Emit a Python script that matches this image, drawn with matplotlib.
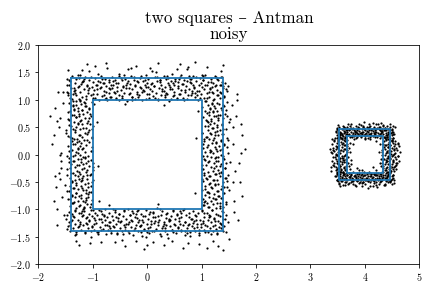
import numpy as np
import matplotlib
matplotlib.use('Agg')
import matplotlib.pyplot as plt

plt.rcParams['font.family'] = ['cmr10', 'DejaVu Serif']
plt.rcParams['mathtext.fontset'] = 'cm'
plt.rcParams['axes.formatter.use_mathtext'] = True

# noisy samples, coordinates in hundredths
big_top = [(-148,127),(-145,112),(-143,136),(-141,104),(-140,121),(-138,143),(-136,98),(-135,117),(-133,131),(-131,108),(-130,139),(-128,124),(-126,102),(-124,146),(-123,115),(-121,129),(-119,106),(-118,134),(-116,119),(-114,141),(-112,101),(-111,126),(-109,113),(-107,137),(-106,152),(-104,109),(-102,123),(-100,132),(-99,104),(-97,118),(-95,140),(-94,127),(-92,111),(-90,135),(-88,99),(-87,121),(-85,144),(-83,107),(-82,130),(-80,116),(-78,138),(-76,103),(-75,125),(-73,158),(-71,112),(-70,133),(-68,120),(-66,105),(-64,142),(-63,128),(-61,114),(-59,137),(-58,101),(-56,123),(-54,131),(-52,109),(-51,147),(-49,118),(-47,136),(-46,104),(-44,126),(-42,113),(-40,139),(-39,121),(-37,97),(-35,134),(-34,110),(-32,129),(-30,143),(-28,106),(-27,119),(-25,137),(-23,102),(-22,125),(-20,161),(-18,114),(-16,132),(-15,108),(-13,140),(-11,122),(-10,100),(-8,135),(-6,117),(-4,128),(-3,145),(-1,111),(1,124),(2,138),(4,103),(6,119),(8,131),(9,152),(11,107),(13,126),(14,141),(16,113),(18,134),(20,100),(21,121),(23,137),(25,109),(26,128),(28,116),(30,144),(32,105),(33,123),(35,139),(37,111),(38,130),(40,98),(42,119),(44,135),(45,148),(47,107),(49,127),(50,114),(52,138),(54,102),(56,122),(57,133),(59,110),(61,141),(62,118),(64,129),(66,104),(68,136),(69,115),(71,126),(73,156),(74,101),(76,120),(78,139),(80,108),(81,131),(83,113),(85,143),(86,124),(88,105),(90,134),(92,117),(93,99),(95,128),(97,140),(98,110),(100,123),(102,136),(104,103),(105,119),(107,145),(109,127),(110,112),(112,133),(114,106),(116,121),(117,139),(119,115),(121,130),(122,101),(124,125),(126,142),(128,109),(129,118),(131,136),(133,104),(134,128),(136,113),(138,141),(140,122),(141,107),(143,131),(146,117),(149,125),
           (-95,162),(-30,158),(60,165),(110,160),(-120,155),(135,152),(5,159),(88,170),
           (-37,131),(88,112),(-126,140),(15,104),(-71,122),(131,109),(-4,137),(56,126),(-109,118),(102,144),(-58,103),(27,119),(-143,128),(73,135),(-19,110),(119,123),(-90,147),(44,101),(-132,113),(7,129),(95,117),(-49,140),(138,132),(-80,108),(63,145),(-14,124),(-118,135),(35,113),(110,103),(-66,128),(-101,96),(81,139),(-28,106),(145,119),(-139,102),(18,142),(-55,117),(126,127),(-87,133),(50,108),(-7,118),(99,130),(-125,125),(68,100),(-42,146),(-113,107),(23,133),(136,141),(-76,115),(-2,101),(86,122),(-148,139),(41,127),(-62,135),(113,114),(-22,128),(-96,103),(59,138),(-133,118),(4,111),(77,143),(-45,124),(121,100),(-83,139),(30,116),(-120,132),(92,109),(-11,143),(140,125),(-68,105),(47,131),(-106,121),(-31,112),(103,136),(-145,108),(12,126),(70,118),(-52,100),(128,138),(-93,128),(37,144),(-16,105),(84,127),(-128,146),(-60,113),(24,137),(115,120),(-78,102),(-39,127),(61,111),(-116,139),(0,131),(97,104),(-135,121),(46,120),(-25,141),(133,115),(-99,110),(79,133),(-47,107),(16,150),(-71,137),(107,127),(-9,114),(-141,134),(54,104),(-85,124),(124,144),(32,109),(-57,130),(90,141),(-123,99),(-33,121),(66,129),(142,106),(-104,141),(9,116),(-74,99),(117,133),(-18,134),(42,124),(-137,111),(82,116),(-51,143),(-93,119),(20,102),(135,128),(-64,122),(75,109),(-27,99),(100,146),(-111,127),(52,135),(-3,123),(-147,115),(121,112),(-80,131),(39,140),
           (-35,157),(75,160),(-110,165),(20,168),(140,163),(-145,155),(55,156),(-75,168)]
big_bottom = [(-149,-118),(-146,-131),(-144,-105),(-142,-140),(-140,-122),(-139,-109),(-137,-135),(-135,-114),(-133,-127),(-132,-101),(-130,-145),(-128,-119),(-127,-133),(-125,-107),(-123,-124),(-121,-138),(-120,-112),(-118,-129),(-116,-103),(-114,-142),(-113,-116),(-111,-126),(-109,-134),(-107,-108),(-106,-121),(-104,-150),(-102,-113),(-101,-130),(-99,-102),(-97,-137),(-95,-119),(-94,-125),(-92,-110),(-90,-141),(-89,-117),(-87,-132),(-85,-104),(-83,-123),(-82,-136),(-80,-111),(-78,-128),(-77,-99),(-75,-146),(-73,-115),(-71,-131),(-70,-106),(-68,-124),(-66,-139),(-64,-112),(-63,-120),(-61,-133),(-59,-102),(-57,-127),(-56,-143),(-54,-116),(-52,-108),(-50,-135),(-49,-122),(-47,-157),(-45,-113),(-43,-129),(-42,-104),(-40,-138),(-38,-118),(-36,-126),(-35,-100),(-33,-144),(-31,-111),(-29,-132),(-28,-121),(-26,-106),(-24,-137),(-22,-115),(-21,-128),(-19,-103),(-17,-140),(-15,-119),(-14,-131),(-12,-109),(-10,-148),(-8,-124),(-7,-113),(-5,-136),(-3,-101),(-1,-127),(0,-142),(2,-117),(4,-108),(6,-133),(7,-122),(9,-139),(11,-105),(13,-125),(14,-114),(16,-136),(18,-98),(20,-129),(21,-119),(23,-145),(25,-110),(27,-134),(28,-103),(30,-123),(32,-140),(34,-116),(35,-128),(37,-107),(39,-152),(41,-120),(42,-131),(44,-112),(46,-138),(48,-102),(49,-126),(51,-117),(53,-143),(55,-109),(56,-132),(58,-121),(60,-104),(62,-137),(63,-115),(65,-129),(67,-100),(69,-147),(70,-123),(72,-111),(74,-134),(76,-106),(77,-126),(79,-141),(81,-118),(83,-130),(84,-103),(86,-121),(88,-139),(90,-113),(91,-127),(93,-107),(95,-144),(97,-119),(98,-133),(100,-101),(102,-125),(104,-138),(105,-114),(107,-129),(109,-106),(111,-142),(112,-120),(114,-110),(116,-135),(118,-124),(119,-102),(121,-139),(123,-116),(125,-128),(126,-108),(128,-145),(130,-121),(132,-133),(133,-112),(135,-126),(137,-104),(139,-140),(140,-118),(142,-131),(145,-110),(148,-124),
              (-60,-160),(-20,-158),(30,-165),(75,-162),(120,-158),(-105,-162),(0,-166),(110,-170),(150,-155),(-130,-158),
              (41,-122),(-83,-109),(127,-136),(-12,-128),(66,-101),(-139,-119),(3,-143),(-57,-115),(98,-127),(-28,-104),(115,-113),(-104,-139),(29,-131),(-70,-124),(140,-105),(-45,-146),(82,-118),(-126,-130),(11,-107),(-93,-141),(57,-135),(-18,-116),(133,-125),(-63,-100),(37,-145),(-117,-111),(92,-132),(-34,-123),(-148,-136),(20,-112),(107,-142),(-77,-119),(48,-103),(-6,-138),(123,-118),(-98,-126),(73,-144),(-52,-108),(-132,-147),(15,-121),(88,-110),(-40,-133),(138,-128),(-88,-102),(30,-127),(-110,-114),(62,-139),(-23,-134),(102,-121),(-67,-143),(6,-105),(-143,-124),(77,-114),(-31,-111),(118,-146),(-120,-103),(45,-137),(-9,-119),(96,-138),(-74,-129),(-54,-121),(25,-148),(131,-110),(-101,-132),(59,-116),(-16,-102),(85,-125),(-136,-113),(-47,-140),(110,-131),(2,-134),(-84,-117),(35,-109),(145,-141),(-113,-125),(69,-123),(-26,-147),(-59,-105),(124,-122),(13,-139),(-95,-107),(51,-128),(-130,-141),(-4,-112),(100,-104),(-72,-137),(40,-117),(-38,-126),(136,-134),(-107,-120),(79,-148),(-14,-130),(-147,-110),(63,-106),(-62,-131),(19,-124),(113,-115),(-90,-146),(-21,-109),(47,-142),(-124,-127),(90,-120),(-43,-101),(7,-127),(128,-144),(-80,-112),(32,-135),(-115,-143),(75,-129),(-3,-150),(-50,-124),(104,-107),(-141,-128),(55,-111),(-35,-139),(121,-130),(-97,-116),(23,-100),(-68,-134),(143,-118),(-11,-141),(86,-134),(-121,-106),(42,-119),(-85,-138),(-29,-120),(119,-102),(-55,-145),(10,-115),(70,-140),(-133,-104),(95,-147),(-16,-123),(-104,-101),(60,-126),
              (-85,-160),(45,-158),(-40,-168),(95,-163),(-125,-165),(130,-168),(10,-160),(-5,-172),(140,-175),(65,-170)]
big_left = [(-118,-99),(-131,-97),(-105,-96),(-142,-94),(-124,-92),(-110,-90),(-137,-89),(-115,-87),(-128,-85),(-102,-83),(-146,-82),(-121,-80),(-133,-78),(-108,-77),(-126,-75),(-139,-73),(-113,-71),(-130,-70),(-104,-68),(-143,-66),(-117,-64),(-127,-63),(-135,-61),(-109,-59),(-122,-58),(-151,-56),(-114,-54),(-131,-52),(-101,-51),(-138,-49),(-120,-47),(-125,-45),(-111,-44),(-142,-42),(-118,-40),(-133,-38),(-105,-37),(-124,-35),(-137,-33),(-112,-31),(-129,-30),(-99,-28),(-147,-26),(-116,-24),(-132,-23),(-107,-21),(-125,-19),(-140,-17),(-113,-16),(-121,-14),(-134,-12),(-103,-10),(-128,-9),(-144,-7),(-117,-5),(-109,-3),(-136,-2),(-123,0),(-158,2),(-114,4),(-130,5),(-104,7),(-139,9),(-119,11),(-127,12),(-101,14),(-145,16),(-112,18),(-133,19),(-122,21),(-107,23),(-138,25),(-116,26),(-129,28),(-102,30),(-141,32),(-120,33),(-126,35),(-110,37),(-149,39),(-115,40),(-132,42),(-106,44),(-124,46),(-137,47),(-113,49),(-130,51),(-100,53),(-143,54),(-119,56),(-127,58),(-134,60),(-108,61),(-121,63),(-146,65),(-114,67),(-131,68),(-103,70),(-139,72),(-117,74),(-125,75),(-110,77),(-142,79),(-119,81),(-134,82),(-106,84),(-128,86),(-136,88),(-112,89),(-130,91),(-98,93),(-144,95),(-116,96),(-123,98),
            (-178,70),(-172,35),(-166,62),(-160,66),(-170,-40),(-162,-33),(-160,-45),(-156,-78),(-163,115),(-158,-12),(-165,-128),(-155,95),(-160,0),(-152,-110),
            (-121,-73),(-108,41),(-137,-12),(-115,88),(-131,-55),(-102,7),(-143,63),(-126,-94),(-111,-28),(-134,29),(-119,-61),(-147,-3),(-105,75),(-128,-40),(-140,52),(-113,-83),(-124,16),(-99,-47),(-136,90),(-117,-17),(-130,69),(-107,-68),(-145,34),(-122,-8),(-110,58),(-138,-75),(-127,3),(-103,-36),(-133,44),(-116,-98),(-142,-24),(-120,81),(-109,-52),(-129,23),(-148,-66),(-114,94),(-125,-31),(-101,47),(-139,-88),(-118,12),(-132,-46),(-106,67),(-144,-14),(-123,36),(-112,-79),(-135,84),(-100,-22),(-128,56),(-141,-57),(-115,-4),(-126,71),(-104,-91),(-137,19),(-119,-43),(-146,78),(-111,27),(-131,-70),(-108,-11),(-122,92),(-140,-33),(-117,49),(-134,-86),(-102,33),(-129,-19),(-143,6),(-113,-64),(-124,61),(-138,-50),(-106,86),(-120,-26),(-150,44),(-116,-95),(-127,10),(-103,-58),(-135,73),(-110,-38),(-142,-81),(-125,24),(-114,-6),(-131,97),(-109,-72),(-139,31),(-121,-49),(-147,-37),(-105,55),(-133,-1),(-118,-84),(-128,80),(-100,-15),(-136,-62),
            (-168,-60),(-175,20),(-162,50),(-166,-100),(-170,85),(-158,-25),(-155,115),(-172,-85)]
big_right = [(127,-98),(112,-96),(139,-95),(104,-93),(121,-91),(133,-89),(109,-88),(145,-86),(118,-84),(126,-82),(102,-81),(137,-79),(114,-77),(130,-75),(107,-74),(123,-72),(141,-70),(111,-68),(128,-67),(100,-65),(135,-63),(119,-61),(147,-60),(106,-58),(124,-56),(131,-54),(113,-53),(139,-51),(103,-49),(121,-47),(128,-46),(110,-44),(144,-42),(116,-40),(134,-39),(105,-37),(125,-35),(138,-33),(112,-32),(120,-30),(130,-28),(101,-26),(143,-25),(117,-23),(127,-21),(108,-19),(136,-18),(122,-16),(153,-14),(113,-12),(131,-11),(104,-9),(140,-7),(118,-5),(126,-4),(109,-2),(135,0),(121,2),(148,3),(106,5),(129,7),(115,9),(138,10),(102,12),(124,14),(132,16),(111,17),(142,19),(119,21),(127,23),(105,24),(136,26),(114,28),(123,30),(146,31),(108,33),(130,35),(117,37),(139,38),(101,40),(125,42),(133,44),(112,45),(144,47),(120,49),(128,51),(106,52),(137,54),(115,56),(123,58),(150,59),(110,61),(131,63),(118,65),(140,66),(103,68),(126,70),(134,72),(113,73),(143,75),(121,77),(107,79),(129,80),(137,82),(116,84),(124,86),(100,87),(141,89),(111,91),(132,93),(119,94),(146,96),(108,98),
             (158,50),(172,2),(162,-30),(155,90),(165,110),(160,-85),(167,-120),(152,65),(170,-50),(157,20),(175,35),
             (118,61),(132,-33),(107,-84),(141,18),(124,-7),(110,76),(137,-58),(101,-19),(129,43),(145,-91),(115,4),(122,-47),(135,85),(104,29),(140,-70),(127,-12),(112,52),(148,-38),(119,92),(133,9),(106,-63),(125,36),(143,-25),(113,-96),(130,67),(102,-3),(139,47),(121,-79),(109,14),(146,71),(116,-52),(128,-88),(136,25),(105,-34),(123,89),(141,-8),(111,60),(131,-66),(100,40),(144,-16),(120,79),(108,-43),(134,-97),(126,21),(114,-71),(138,56),(103,-27),(129,95),(147,-49),(117,6),(124,-82),(110,33),(142,-59),(130,73),(106,-10),(135,-31),(119,49),(102,-93),(127,11),(145,82),(113,-40),(132,-75),(108,64),(139,-2),(121,27),(150,-65),(116,86),(125,-54),(104,-86),(137,37),(112,-14),(128,54),(143,-42),(107,98),(133,-21),(118,-60),(146,14),(123,70),(101,-45),(136,-80),(115,39),(131,-5),(140,91),(109,-69),(126,-36),(149,26),(114,77),(134,-94),(103,19),(122,-24),
             (168,-15),(163,70),(175,-75),(160,-105),(172,55),(158,-50),(165,100),(180,10)]
big_inside = [(-92,60),(-90,-20),(90,30),(88,-70),(-40,92),(30,90),(20,-90),(-70,-92),(93,80),(-88,-85)]

small_top = [(347,41),(348,36),(349,47),(350,33),(351,44),(352,39),(353,50),(354,35),(355,42),(356,31),(357,46),(358,38),(359,53),(360,34),(361,43),(362,40),(363,48),(364,32),(365,37),(366,45),(367,41),(368,51),(369,35),(370,44),(371,38),(372,47),(373,33),(374,42),(375,55),(376,36),(377,46),(378,39),(379,49),(380,34),(381,43),(382,37),(383,52),(384,41),(385,32),(386,45),(387,38),(388,48),(389,35),(390,43),(391,40),(392,54),(393,33),(394,46),(395,37),(396,50),(397,42),(398,36),(399,47),(400,31),(401,44),(402,39),(403,51),(404,35),(405,42),(406,48),(407,38),(408,45),(409,33),(410,53),(411,40),(412,36),(413,47),(414,43),(415,34),(416,50),(417,39),(418,45),(419,37),(420,56),(421,42),(422,32),(423,48),(424,40),(425,35),(426,46),(427,38),(428,51),(429,43),(430,34),(431,47),(432,41),(433,37),(434,54),(435,44),(436,33),(437,49),(438,39),(439,45),(440,36),(441,52),(442,42),(443,38),(444,47),(445,34),(446,44),(447,50),(448,40),(449,36),(450,46),(451,42),(452,53),(453,38),
             (412,44),(368,38),(437,49),(353,33),(394,41),(424,55),(379,36),(449,45),(361,51),(405,30),(386,47),(430,39),(346,43),(417,35),(372,53),(398,48),(441,33),(356,40),(389,56),(427,44),(364,31),(408,50),(382,42),(452,37),(375,49),(419,41),(350,54),(400,37),(434,52),(367,45),(392,34),(445,40),(358,35),(414,57),(385,39),(428,31),(371,47),(403,43),(447,55),(377,32),(421,46),(348,48),(396,53),(438,36),(363,42),(410,38),(387,51),(432,43),(355,37),(416,49),(380,45),(450,42),(369,56),(401,34),(425,50),(359,46),(393,39),(443,47),(374,34),(407,55),(383,31),(436,44),(351,39),(418,33),(390,49),(455,51),(366,36),(429,58),(398,59)]
small_bottom = [(347,-40),(348,-46),(349,-34),(350,-49),(351,-37),(352,-43),(353,-52),(354,-36),(355,-45),(356,-32),(357,-41),(358,-48),(359,-38),(360,-55),(361,-35),(362,-44),(363,-39),(364,-50),(365,-33),(366,-42),(367,-47),(368,-37),(369,-53),(370,-41),(371,-34),(372,-45),(373,-39),(374,-51),(375,-36),(376,-43),(377,-48),(378,-31),(379,-44),(380,-40),(381,-56),(382,-37),(383,-46),(384,-42),(385,-35),(386,-49),(387,-39),(388,-44),(389,-33),(390,-52),(391,-41),(392,-37),(393,-47),(394,-43),(395,-35),(396,-50),(397,-40),(398,-45),(399,-32),(400,-54),(401,-38),(402,-46),(403,-42),(404,-36),(405,-49),(406,-40),(407,-44),(408,-34),(409,-51),(410,-39),(411,-47),(412,-36),(413,-43),(414,-58),(415,-41),(416,-35),(417,-48),(418,-38),(419,-45),(420,-33),(421,-50),(422,-42),(423,-37),(424,-47),(425,-40),(426,-53),(427,-35),(428,-44),(429,-39),(430,-49),(431,-32),(432,-46),(433,-41),(434,-37),(435,-55),(436,-43),(437,-38),(438,-48),(439,-34),(440,-45),(441,-41),(442,-51),(443,-36),(444,-44),(445,-39),(446,-49),(447,-33),(448,-46),(449,-40),(450,-54),(451,-37),(452,-43),(453,-47),
                (388,-44),(421,-38),(356,-49),(403,-33),(437,-55),(372,-41),(414,-47),(349,-36),(395,-52),(430,-35),(365,-45),(409,-57),(381,-39),(446,-48),(359,-31),(425,-43),(391,-50),(352,-54),(417,-36),(376,-46),(440,-40),(399,-37),(363,-55),(428,-51),(385,-33),(449,-44),(368,-38),(406,-48),(433,-32),(357,-42),(420,-56),(379,-49),(443,-37),(393,-45),(348,-47),(411,-40),(371,-34),(436,-53),(402,-42),(383,-57),(452,-38),(361,-44),(424,-34),(397,-51),(354,-40),(416,-52),(374,-37),(441,-46),(389,-35),(432,-42),(366,-50),(408,-31),(378,-54),(447,-50),(401,-46),(355,-57),(427,-47),(384,-41),(419,-44),(362,-35),(394,-58),(438,-43),(370,-52),(412,-35),(350,-44),(454,-52),(387,-47),(345,-39),(423,-60),(405,-61)]
small_left = [(359,-32),(352,-30),(364,-29),(349,-27),(356,-26),(361,-24),(346,-23),(354,-21),(366,-20),(351,-18),(358,-17),(343,-15),(362,-14),(355,-12),(348,-11),(365,-9),(353,-8),(360,-6),(345,-5),(357,-3),(350,-2),(363,0),(347,1),(355,3),(368,4),(352,6),(359,7),(341,9),(364,10),(350,12),(357,13),(346,15),(361,17),(353,18),(367,20),(349,21),(356,23),(344,24),(362,26),(351,27),(358,29),(348,30),(365,32),(354,-31),(342,-19),(362,-10),(349,-1),(356,8),(340,19),(363,31),(353,-25),(369,-16),(347,11),(358,-7),(351,25),(338,5),(337,-22),(339,28),
              (356,-29),(348,14),(362,-3),(343,26),(353,-17),(367,8),(346,-8),(359,22),(351,-24),(365,-13),(340,2),(357,31),(349,-31),(363,17),(354,-6),(344,-20),(361,11),(352,28),(366,-26),(347,-1),(358,-14),(342,12),(364,24),(350,4),(355,-20),(369,-4),(345,30),(360,-10),(339,-12),(353,9),(368,15),(346,-28),(357,19),(341,-5),(362,-22),(351,16),(336,10),(365,1),(348,-16),(359,-33),(344,7),(354,32),(371,-21),(338,-30),(367,27)]
small_right = [(441,-32),(448,-30),(436,-29),(451,-27),(444,-26),(439,-24),(454,-23),(446,-21),(434,-20),(449,-18),(442,-17),(457,-15),(438,-14),(445,-12),(452,-11),(435,-9),(447,-8),(440,-6),(455,-5),(443,-3),(450,-2),(437,0),(453,1),(445,3),(432,4),(448,6),(441,7),(459,9),(436,10),(450,12),(443,13),(454,15),(439,17),(447,18),(433,20),(451,21),(444,23),(456,24),(438,26),(449,27),(442,29),(452,30),(435,32),(446,-31),(458,-19),(438,-10),(451,-1),(444,8),(460,19),(437,31),(447,-25),(431,-16),(453,11),(442,-7),(449,25),(461,-3),(462,16),
               (444,29),(452,-14),(438,3),(457,-26),(447,17),(433,-8),(454,8),(441,-22),(449,24),(435,13),(460,-2),(443,-31),(437,-17),(456,20),(446,-6),(439,28),(451,-10),(458,12),(434,-25),(448,1),(442,14),(455,-20),(431,-1),(447,31),(440,-12),(461,22),(436,18),(453,-30),(445,-4),(450,26),(459,-16),(432,9),(446,-28),(441,5),(464,4),(438,-29),(449,-23),(435,25),(457,-9),(443,20),(452,30),(430,-20),(462,-12),(440,32),(455,2)]
small_inside = [(372,22),(375,-10),(372,-27),(410,28),(390,-28),(427,20),(428,-15),(380,29),(420,-29),(373,5),
                (378,20),(420,25),(385,-25),(415,-22),(374,-18),(426,5),(400,28),(395,-29),(371,12),(429,-8)]

# squares: centre x, centre y, half side
square_cx = [0.0, 0.0, 4.0, 4.0]
square_cy = [0.0, 0.0, 0.0, 0.0]
square_half = [1.4, 1.0, 0.467, 0.333]

pts = np.array(big_top + big_bottom + big_left + big_right + big_inside
               + small_top + small_bottom + small_left + small_right + small_inside) / 100.0

fig = plt.figure(figsize=(6, 4), dpi=72)
ax = fig.add_axes([0.0887, 0.0833, 0.882, 0.760])
ax.plot(pts[:, 0], pts[:, 1], 'o', color='k', ms=2.2, mew=0, zorder=2)

for cx, cy, h in zip(square_cx, square_cy, square_half):
    sx = [cx - h, cx + h, cx + h, cx - h, cx - h]
    sy = [cy + h, cy + h, cy - h, cy - h, cy + h]
    ax.plot(sx, sy, color='#1f77b4', lw=1.8, zorder=3)

ax.set_xlim(-2, 5)
ax.set_ylim(-2, 2)
ax.set_yticks([-2, -1.5, -1, -0.5, 0, 0.5, 1, 1.5, 2])
ax.tick_params(labelsize=10)
ax.set_title('two squares – Antman\nnoisy', fontsize=17, linespacing=1.1)

plt.savefig('out.png', dpi=72)
